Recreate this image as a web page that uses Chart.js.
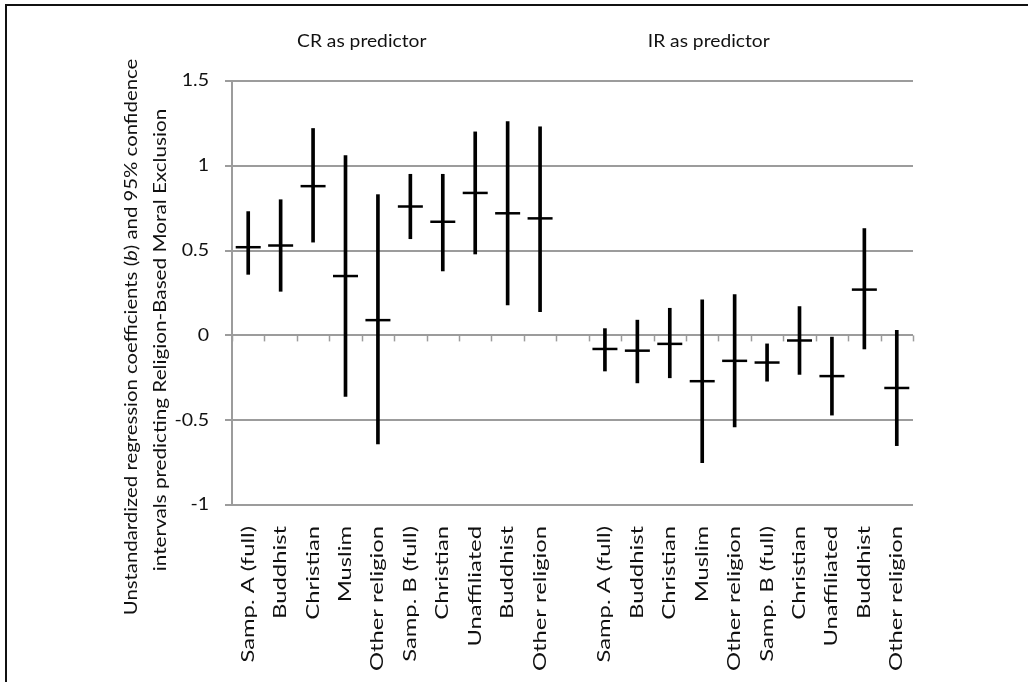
<!DOCTYPE html>
<html>
<head>
<meta charset="utf-8">
<script src="https://cdn.jsdelivr.net/npm/chart.js@4/dist/chart.umd.min.js"></script>
<style>
  html, body { margin: 0; padding: 0; background: #fff; }
  #wrap { position: relative; width: 1028px; height: 682px; overflow: hidden; }
  #frame { position: absolute; left: 5px; top: 4px; width: 1100px; height: 700px;
           border-top: 2px solid #111; border-left: 2px solid #111; }
  canvas { position: absolute; left: 0; top: 0; }
</style>
</head>
<body>
<div id="wrap">
  <div id="frame"></div>
  <canvas id="chart" width="1028" height="682"></canvas>
</div>
<script>
// groups: CR as predictor, then IR as predictor (one empty slot between them)
const groupLabels = ['Samp. A (full)', 'Buddhist', 'Christian', 'Muslim', 'Other religion',
                     'Samp. B (full)', 'Christian', 'Unaffiliated', 'Buddhist', 'Other religion'];

const crCoef = [0.52, 0.53, 0.88, 0.35, 0.09, 0.76, 0.67, 0.84, 0.72, 0.69];
const crLow  = [0.36, 0.26, 0.55, -0.36, -0.64, 0.57, 0.38, 0.48, 0.18, 0.14];
const crHigh = [0.73, 0.80, 1.22, 1.06, 0.83, 0.95, 0.95, 1.20, 1.26, 1.23];

const irCoef = [-0.08, -0.09, -0.05, -0.27, -0.15, -0.16, -0.03, -0.24, 0.27, -0.31];
const irLow  = [-0.21, -0.28, -0.25, -0.75, -0.54, -0.27, -0.23, -0.47, -0.08, -0.65];
const irHigh = [0.04, 0.09, 0.16, 0.21, 0.24, -0.05, 0.17, -0.01, 0.63, 0.03];

const yTicks = [-1, -0.5, 0, 0.5, 1, 1.5];
const yTickLabels = ['-1', '-0.5', '0', '0.5', '1', '1.5'];

const FONT = 'Lato, "Open Sans", sans-serif';
const TEXT = '#111';
const GRID = '#9c9c9c';

const labels = [...groupLabels, '', ...groupLabels];
const coef = [...crCoef, null, ...irCoef];
const ci = [...crLow.map((v, i) => [v, crHigh[i]]), null, ...irLow.map((v, i) => [v, irHigh[i]])];

// the source figure's type is wide for its height, so text gets stretched along its run
function stretchedText(ctx, parts, x, y, angle, sx, align) {
    ctx.save();
    ctx.translate(x, y);
    ctx.rotate(angle);
    ctx.scale(sx, 1);
    ctx.textBaseline = 'middle';
    ctx.textAlign = 'left';
    let total = 0;
    parts.forEach(p => { ctx.font = p.font; total += ctx.measureText(p.text).width; });
    let pos = align === 'center' ? -total / 2 : align === 'right' ? -total : 0;
    parts.forEach(p => {
        ctx.font = p.font;
        ctx.fillText(p.text, pos, 0);
        pos += ctx.measureText(p.text).width;
    });
    ctx.restore();
}

const decorations = {
    id: 'decorations',
    afterDatasetsDraw(chart) {
        const { ctx, scales: { x, y } } = chart;
        // small tick marks hanging under the zero line
        const y0 = y.getPixelForValue(0);
        ctx.save();
        ctx.strokeStyle = GRID;
        ctx.lineWidth = 1.5;
        for (let i = 0; i <= labels.length; i++) {
            const px = Math.round(x.getPixelForValue(i - 0.5)) + 0.5;
            ctx.beginPath();
            ctx.moveTo(px, y0);
            ctx.lineTo(px, y0 + 6);
            ctx.stroke();
        }
        ctx.restore();
    },
    afterDraw(chart) {
        const { ctx, chartArea, scales: { x, y } } = chart;
        ctx.save();
        ctx.fillStyle = TEXT;
        const f17 = `17px ${FONT}`;

        stretchedText(ctx, [{ text: 'CR as predictor', font: f17 }], x.getPixelForValue(3.5), 42, 0, 1.13, 'center');
        stretchedText(ctx, [{ text: 'IR as predictor', font: f17 }], x.getPixelForValue(14.2), 42, 0, 1.13, 'center');

        // y tick labels
        yTicks.forEach((v, i) => {
            stretchedText(ctx, [{ text: yTickLabels[i], font: f17 }], 209, y.getPixelForValue(v), 0, 1.15, 'right');
        });

        // category labels, rotated
        labels.forEach((lab, i) => {
            if (!lab) return;
            stretchedText(ctx, [{ text: lab, font: f17 }], x.getPixelForValue(i), chartArea.bottom + 21,
                -Math.PI / 2, 1.4, 'right');
        });

        // rotated y title, with italic (b)
        const f18 = `18px ${FONT}`;
        stretchedText(ctx, [
            { text: 'Unstandardized regression coefficients (', font: f18 },
            { text: 'b', font: `italic ${f18}` },
            { text: ') and 95% confidence', font: f18 }
        ], 131, 337, -Math.PI / 2, 1.13, 'center');
        stretchedText(ctx, [{ text: 'intervals predicting Religion-Based Moral Exclusion', font: f18 }],
            160, 340, -Math.PI / 2, 1.15, 'center');
        ctx.restore();
    }
};

new Chart(document.getElementById('chart'), {
    data: {
        labels: labels,
        datasets: [
            {
                type: 'line',
                data: coef,
                showLine: false,
                pointStyle: 'line',
                pointRadius: 12.5,
                pointHoverRadius: 12.5,
                pointBorderWidth: 2.5,
                pointBorderColor: '#000',
                order: 1
            },
            {
                type: 'bar',
                data: ci,
                backgroundColor: '#000',
                borderWidth: 0,
                barThickness: 3,
                grouped: false,
                order: 2
            }
        ]
    },
    options: {
        responsive: false,
        animation: false,
        events: [],
        layout: { padding: { top: 81, right: 115, left: 0, bottom: 0 } },
        plugins: { legend: { display: false }, tooltip: { enabled: false } },
        scales: {
            x: {
                offset: true,
                grid: { display: false, drawTicks: false },
                border: { display: false },
                ticks: { display: false },
                afterFit: s => { s.height = 177; }
            },
            y: {
                min: -1, max: 1.5,
                afterBuildTicks: s => { s.ticks = yTicks.map(v => ({ value: v })); },
                grid: { color: GRID, lineWidth: 2, tickLength: 7 },
                border: { display: true, color: GRID, width: 2 },
                ticks: { display: false },
                afterFit: s => { s.width = 232; }
            }
        }
    },
    plugins: [decorations]
});
</script>
</body>
</html>
